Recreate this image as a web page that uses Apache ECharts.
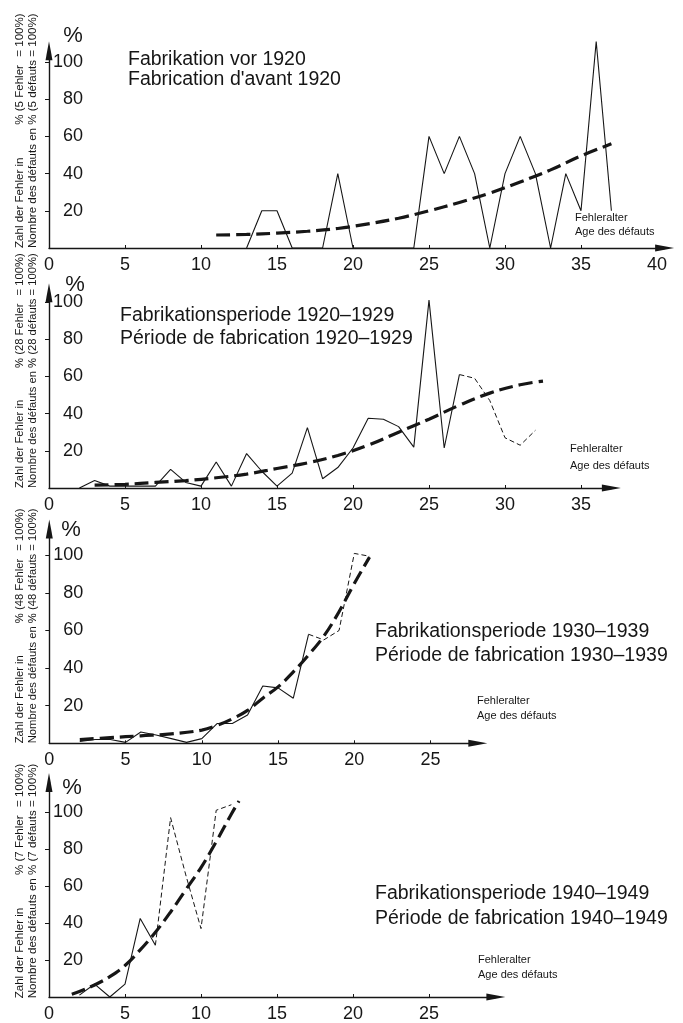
<!DOCTYPE html>
<html>
<head>
<meta charset="utf-8">
<script src="https://cdn.jsdelivr.net/npm/echarts@6/dist/echarts.min.js"></script>
<style>
  html, body { margin: 0; padding: 0; background: #ffffff; }
  #chart { width: 683px; height: 1023px; }
</style>
</head>
<body>
<div id="chart"></div>
<script>
// Defect age (years) against share of defects in %, one panel per manufacturing period.

// --- Fabrikation vor 1920 (5 Fehler = 100 %) ---
const agesPre1920 = [13, 14, 15, 16, 17, 18, 19, 20, 21, 22, 23, 24, 25, 26, 27, 28, 29, 30, 31, 32, 33, 34, 35, 36, 37];
const sharePre1920 = [0, 20, 20, 0, 0, 0, 40, 0, 0, 0, 0, 0, 60, 40, 60, 40, 0, 40, 60, 40, 0, 40, 20, 111, 20];
const trendAgesPre1920 = [11, 13, 15, 17, 19, 21, 23, 25, 27, 29, 31, 33, 35, 37];
const trendPre1920 = [7, 7.3, 8, 9, 10.5, 13, 16, 20, 24.5, 29.5, 35.5, 42, 49.5, 56];

// --- Fabrikationsperiode 1920-1929 (28 Fehler = 100 %) ---
const ages1920 = [2, 3, 4, 5, 6, 7, 8, 9, 10, 11, 12, 13, 14, 15, 16, 17, 18, 19, 20, 21, 22, 23, 24, 25, 26, 27];
const share1920 = [0, 4, 1, 1, 1, 1, 10, 3, 1, 14, 1, 18.5, 9, 1, 8, 32.5, 5, 11, 21.5, 37.5, 37, 33, 22, 101, 21.5, 61];
const agesLate1920 = [27, 28, 29, 30, 31, 32];
const shareLate1920 = [61, 59, 47, 27, 23, 31];
const trendAges1920 = [3, 5, 7, 9, 11, 13, 15, 17, 19, 21, 23, 25, 27, 29, 31, 32.5];
const trend1920 = [1.5, 2, 3, 4, 5.5, 7.5, 10.5, 13.5, 17.5, 23, 30, 37, 44.5, 51, 55.5, 57.5];

// --- Fabrikationsperiode 1930-1939 (48 Fehler = 100 %) ---
const ages1930 = [2, 3, 4, 5, 6, 7, 8, 9, 10, 11, 12, 13, 14, 15, 16, 17];
const share1930 = [1, 2, 2, 0.5, 6, 4.4, 2.5, 0.5, 2.5, 10.5, 10.5, 15, 30.5, 29.5, 24, 58];
const agesLate1930 = [17, 18, 19, 20, 21];
const shareLate1930 = [58, 55, 60, 101, 99.5];
const trendAges1930 = [2, 4, 6, 8, 10, 11, 12, 13, 14, 15, 16, 17, 18, 19, 20, 21];
const trend1930 = [2, 3, 4, 5, 7, 9.5, 13, 17.5, 24, 30, 38, 47, 57, 70, 85, 99];

// --- Fabrikationsperiode 1940-1949 (7 Fehler = 100 %) ---
const ages1940 = [2, 3, 4, 5, 6, 7];
const share1940 = [1, 7, 0, 7, 42.5, 28];
const agesLate1940 = [7, 8, 9, 10, 11, 12];
const shareLate1940 = [28, 97, 66, 37, 101, 104];
const trendAges1940 = [1.5, 2, 3, 4, 5, 6, 7, 8, 9, 10, 11, 12, 12.5];
const trend1940 = [1.5, 3, 6.5, 11, 17, 25.5, 35, 46, 58, 70, 84, 99, 106];

// Panel texts
const titleLines = [
  ['Fabrikation vor 1920', "Fabrication d'avant 1920"],
  ['Fabrikationsperiode 1920\u20131929', 'P\u00e9riode de fabrication 1920\u20131929'],
  ['Fabrikationsperiode 1930\u20131939', 'P\u00e9riode de fabrication 1930\u20131939'],
  ['Fabrikationsperiode 1940\u20131949', 'P\u00e9riode de fabrication 1940\u20131949']
];
const defectCounts = [5, 28, 48, 7];
const ageLabel = ['Fehleralter', 'Age des d\u00e9fauts'];

const INK = '#161616';
const FONT = "'Liberation Sans', Arial, Helvetica, sans-serif";

function pairs(xs, ys) { return xs.map((x, i) => [x, ys[i]]); }

// Panel frames: axis origin (px), px per unit, axis extents
const panels = [
  { left: 49,   axisY: 248,   sx: 15.2,  sy: 1.86, xMax: 40.5, yMax: 106,
    title: [128, 60, 80],    age: [575, 218, 231.5], pct: [73, 36] },
  { left: 49,   axisY: 488,   sx: 15.2,  sy: 1.86, xMax: 37,   yMax: 105,
    title: [120, 315.5, 338.5], age: [570, 449, 465.5], pct: [75, 285] },
  { left: 49.3, axisY: 743.3, sx: 15.25, sy: 1.88, xMax: 28.1, yMax: 114,
    title: [375, 631.5, 656], age: [477, 700.5, 716], pct: [71, 530] },
  { left: 49,   axisY: 998.3, sx: 15.2,  sy: 1.86, xMax: 29.4, yMax: 116,
    title: [375, 893.5, 918.5], age: [478, 959.5, 975], pct: [72, 788] }
];

const grids = [], xAxes = [], yAxes = [];
panels.forEach((p, i) => {
  const h = p.yMax * p.sy;
  grids.push({ left: p.left, top: p.axisY - h, width: p.xMax * p.sx, height: h });
  xAxes.push({
    type: 'value', gridIndex: i, min: 0, max: p.xMax, interval: 5,
    axisLine: { show: true, onZero: false, lineStyle: { color: INK, width: 1.4 },
      symbol: ['none', 'triangle'], symbolSize: [7, 19] },
    axisTick: { show: true, inside: true, length: 3, lineStyle: { color: INK, width: 1 } },
    axisLabel: { show: true, margin: 8, color: INK, fontSize: 18, fontFamily: FONT, showMaxLabel: false },
    splitLine: { show: false }
  });
  yAxes.push({
    type: 'value', gridIndex: i, min: 0, max: p.yMax, interval: 20,
    axisLine: { show: true, onZero: false, lineStyle: { color: INK, width: 1.4 },
      symbol: ['none', 'triangle'], symbolSize: [7, 19] },
    axisTick: { show: true, length: 4, lineStyle: { color: INK, width: 1 } },
    axisLabel: { show: true, inside: true, align: 'right', margin: 34, color: INK,
      fontSize: 18, fontFamily: FONT, showMinLabel: false, showMaxLabel: false },
    splitLine: { show: false }
  });
});

const solid = { color: INK, width: 1.1 };
const thinDash = { color: INK, width: 1, type: [5, 3] };
const trendStyle = { color: INK, width: 3.2, type: [14, 6] };

function line(i, data, style, smooth) {
  return {
    type: 'line', xAxisIndex: i, yAxisIndex: i, data: data,
    showSymbol: false, symbol: 'none', smooth: smooth ? 0.4 : false,
    lineStyle: style, clip: false, silent: true, animation: false
  };
}

const series = [
  line(0, pairs(agesPre1920, sharePre1920), solid),
  line(0, pairs(trendAgesPre1920, trendPre1920), trendStyle, true),
  line(1, pairs(ages1920, share1920), solid),
  line(1, pairs(agesLate1920, shareLate1920), thinDash),
  line(1, pairs(trendAges1920, trend1920), trendStyle, true),
  line(2, pairs(ages1930, share1930), solid),
  line(2, pairs(agesLate1930, shareLate1930), thinDash),
  line(2, pairs(trendAges1930, trend1930), trendStyle, true),
  line(3, pairs(ages1940, share1940), solid),
  line(3, pairs(agesLate1940, shareLate1940), thinDash),
  line(3, pairs(trendAges1940, trend1940), trendStyle, true)
];

// Text measuring for the rotated y-axis captions
const measureCtx = document.createElement('canvas').getContext('2d');
function textWidth(text, size) {
  measureCtx.font = size + 'px ' + FONT;
  return measureCtx.measureText(text).width;
}

function txt(x, y, text, size, align, rotation) {
  return {
    type: 'text', x: x, y: y, rotation: rotation || 0, silent: true,
    style: { text: text, fill: INK, font: size + 'px ' + FONT,
      textAlign: align || 'left', textVerticalAlign: 'middle' }
  };
}

const graphics = [];
const captionLength = 235;
panels.forEach((p, i) => {
  const n = defectCounts[i];
  // titles
  graphics.push(txt(p.title[0], p.title[1], titleLines[i][0], 19.5));
  graphics.push(txt(p.title[0], p.title[2], titleLines[i][1], 19.5));
  // x-axis caption
  graphics.push(txt(p.age[0], p.age[1], ageLabel[0], 11));
  graphics.push(txt(p.age[0], p.age[2], ageLabel[1], 11));
  // unit sign above the y axis
  graphics.push(txt(p.pct[0], p.pct[1], '%', 22, 'center'));
  // rotated y-axis caption, two columns read bottom to top
  const fr = 'Nombre des d\u00e9fauts en % (' + n + ' d\u00e9fauts = 100%)';
  const size = 12 * captionLength / textWidth(fr, 12);
  const bottom = p.axisY;
  const pctStart = bottom - textWidth('Nombre des d\u00e9fauts en ', size);
  const eqStart = bottom - textWidth('Nombre des d\u00e9fauts en % (' + n + ' d\u00e9fauts ', size);
  const R = Math.PI / 2;
  graphics.push(txt(33, bottom, fr, size, 'left', R));
  graphics.push(txt(20, bottom, 'Zahl der Fehler in', size, 'left', R));
  graphics.push(txt(20, pctStart, '% (' + n + ' Fehler', size, 'left', R));
  graphics.push(txt(20, eqStart, '= 100%)', size, 'left', R));
});

const chart = echarts.init(document.getElementById('chart'), null, { renderer: 'canvas' });
chart.setOption({
  backgroundColor: '#ffffff',
  animation: false,
  grid: grids,
  xAxis: xAxes,
  yAxis: yAxes,
  series: series,
  graphic: { elements: graphics }
});
</script>
</body>
</html>
